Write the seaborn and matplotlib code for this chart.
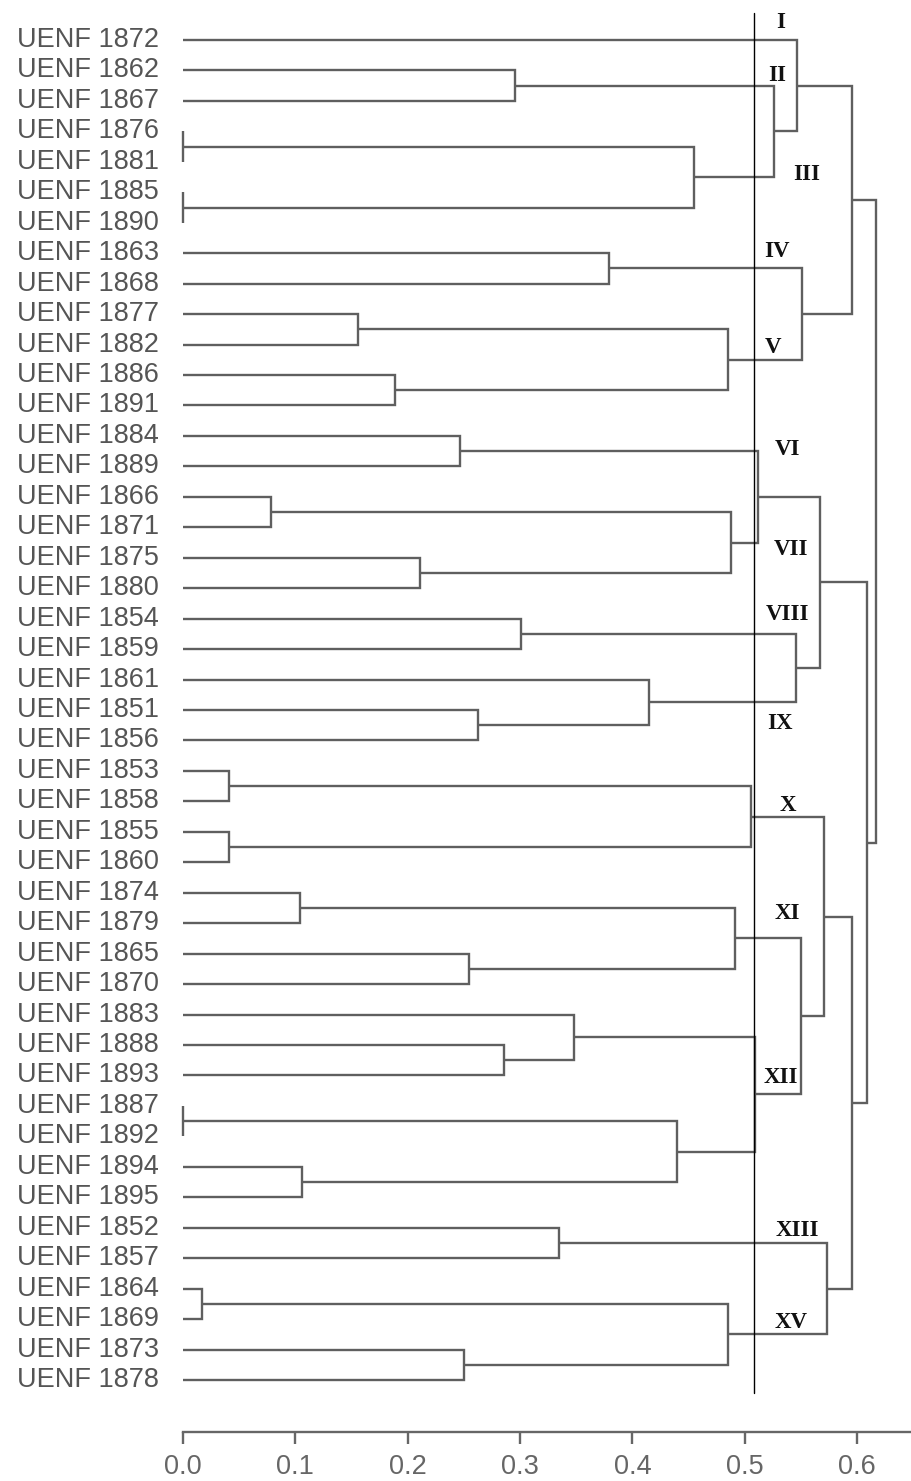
import numpy as np
import pandas as pd
import matplotlib
matplotlib.use("Agg")
import matplotlib.pyplot as plt
import matplotlib.transforms as mtransforms
import seaborn as sns

# ---------------- data ----------------
leaves = ["UENF 1872", "UENF 1862", "UENF 1867", "UENF 1876", "UENF 1881",
          "UENF 1885", "UENF 1890", "UENF 1863", "UENF 1868", "UENF 1877",
          "UENF 1882", "UENF 1886", "UENF 1891", "UENF 1884", "UENF 1889",
          "UENF 1866", "UENF 1871", "UENF 1875", "UENF 1880", "UENF 1854",
          "UENF 1859", "UENF 1861", "UENF 1851", "UENF 1856", "UENF 1853",
          "UENF 1858", "UENF 1855", "UENF 1860", "UENF 1874", "UENF 1879",
          "UENF 1865", "UENF 1870", "UENF 1883", "UENF 1888", "UENF 1893",
          "UENF 1887", "UENF 1892", "UENF 1894", "UENF 1895", "UENF 1852",
          "UENF 1857", "UENF 1864", "UENF 1869", "UENF 1873", "UENF 1878"]

# merges (scipy-like: ids < 45 are leaves, id 45+k is merge k)
merge_a = [1, 3, 5, 46, 45, 0, 7, 9, 11, 52, 51, 50, 13, 15, 17, 58, 57, 19,
           22, 21, 62, 61, 24, 26, 67, 28, 30, 70, 33, 32, 35, 37, 75, 74, 72,
           69, 39, 41, 43, 82, 81, 80, 66, 56]
merge_b = [2, 4, 6, 47, 48, 49, 8, 10, 12, 53, 54, 55, 14, 16, 18, 59, 60, 20,
           23, 63, 64, 65, 25, 27, 68, 29, 31, 71, 34, 73, 36, 38, 76, 77, 78,
           79, 40, 42, 44, 83, 84, 85, 86, 87]
merge_h = [0.296, 0.0, 0.0, 0.455, 0.526, 0.547, 0.379, 0.156, 0.189, 0.485,
           0.551, 0.596, 0.247, 0.078, 0.211, 0.488, 0.512, 0.301, 0.263,
           0.415, 0.546, 0.567, 0.041, 0.041, 0.506, 0.104, 0.255, 0.491,
           0.286, 0.348, 0.0, 0.106, 0.440, 0.509, 0.550, 0.571, 0.335,
           0.017, 0.250, 0.485, 0.573, 0.596, 0.609, 0.617]

cut_height = 0.508

group_labels = ["I", "II", "III", "IV", "V", "VI", "VII", "VIII", "IX", "X",
                "XI", "XII", "XIII", "XV"]
group_x = [0.532, 0.529, 0.555, 0.529, 0.525, 0.538, 0.541, 0.538, 0.531,
           0.538, 0.538, 0.532, 0.547, 0.541]
group_y = [-0.59, 1.15, 4.40, 6.96, 10.11, 13.46, 16.72, 18.88, 22.43, 25.12,
           28.67, 34.06, 39.08, 42.10]

xticks = [0.0, 0.1, 0.2, 0.3, 0.4, 0.5, 0.6]

# ---------------- dendrogram geometry ----------------
n = len(leaves)
node_x = {i: 0.0 for i in range(n)}
node_y = {i: float(i) for i in range(n)}
rows = []
for k, (a, b, h) in enumerate(zip(merge_a, merge_b, merge_h)):
    pts = [(node_x[a], node_y[a]), (h, node_y[a]), (h, node_y[b]), (node_x[b], node_y[b])]
    for j, (px, py) in enumerate(pts):
        rows.append({"seg": k, "order": j, "x": px, "y": py})
    nid = n + k
    node_x[nid] = h
    node_y[nid] = (node_y[a] + node_y[b]) / 2.0
segs = pd.DataFrame(rows)

# ---------------- plot ----------------
sns.set_style("white")
plt.rcParams["font.family"] = ["Liberation Sans", "DejaVu Sans"]

W, H = 912, 1481
fig = plt.figure(figsize=(W / 100, H / 100), dpi=100)
ax_left = 183 / W
ax_bottom = (H - 1432) / H
ax_top = 1 - 10 / H
ax = fig.add_axes([ax_left, ax_bottom, 1 - ax_left, ax_top - ax_bottom])

sns.lineplot(data=segs, x="x", y="y", units="seg", estimator=None, sort=False,
             color="#5f5f5f", linewidth=1.7, ax=ax, legend=False)
for ln in ax.lines:
    ln.set_clip_on(False)
    ln.set_solid_joinstyle("miter")
    ln.set_solid_capstyle("butt")

spacing = (1380 - 40) / (n - 1)
y_top = -(40 - 10) / spacing
y_bot = (n - 1) + (1432 - 1380) / spacing
ax.set_ylim(y_bot, y_top)
ax.set_xlim(0, (W - 183) / 1123.3)

# cut line
ax.plot([cut_height, cut_height], [-0.89, 44.43], color="black", linewidth=1.0,
        clip_on=False)

# leaf labels
trans = mtransforms.blended_transform_factory(fig.transFigure, ax.transData)
for i, lab in enumerate(leaves):
    ax.text(17 / W, i, lab, transform=trans, ha="left", va="center",
            fontsize=19.5, color="#555555")

# group labels
for lab, gx, gy in zip(group_labels, group_x, group_y):
    ax.text(gx, gy, lab, ha="center", va="center", fontsize=16.5,
            fontweight="bold", family=["Liberation Serif", "DejaVu Serif"],
            color="#111111")

# axes styling
for s in ["left", "top", "right"]:
    ax.spines[s].set_visible(False)
ax.spines["bottom"].set_color("#666666")
ax.spines["bottom"].set_linewidth(1.7)
ax.set_yticks([])
ax.set_xticks(xticks)
ax.set_xticklabels([f"{t:.1f}" for t in xticks], fontsize=19.5, color="#666666")
ax.tick_params(axis="x", direction="out", length=8.5, width=1.7, color="#666666",
               pad=7, bottom=True)
ax.set_xlabel("")
ax.set_ylabel("")

fig.savefig("out.png", dpi=100, facecolor="white")
